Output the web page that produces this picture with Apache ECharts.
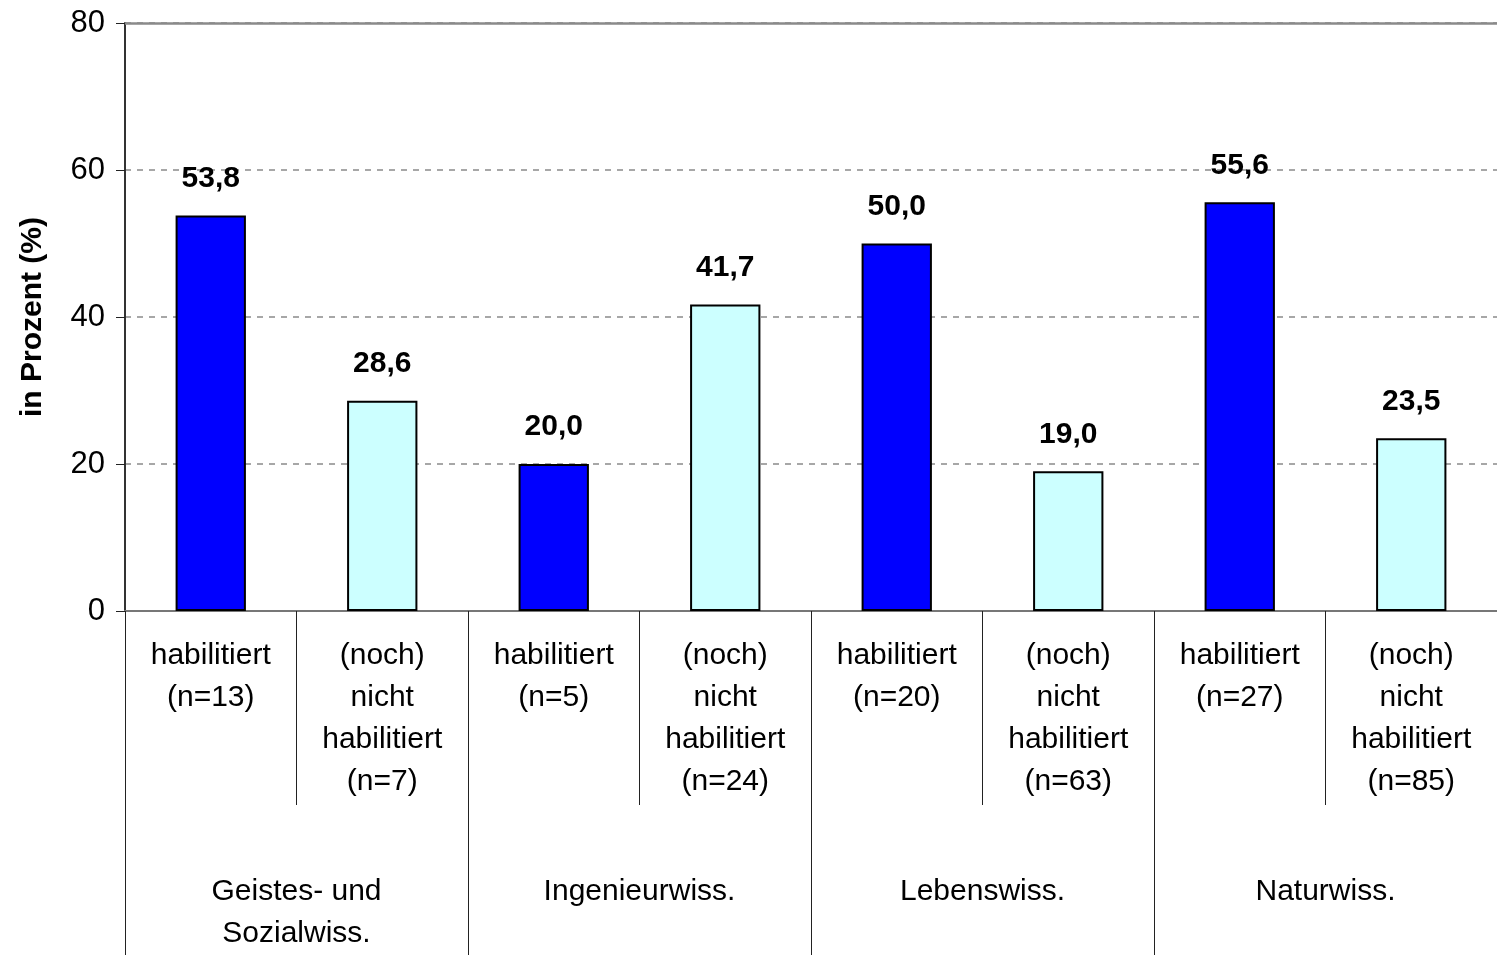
<!DOCTYPE html>
<html>
<head>
<meta charset="utf-8">
<script src="https://cdn.jsdelivr.net/npm/echarts@6/dist/echarts.min.js"></script>
<style>
  html, body { margin: 0; padding: 0; background: #fff; }
  #chart { width: 1497px; height: 955px; }
</style>
</head>
<body>
<div id="chart"></div>
<script>
// categories: status + n per bar, grouped by field
const barLabels = [
  "habilitiert\n(n=13)",
  "(noch)\nnicht\nhabilitiert\n(n=7)",
  "habilitiert\n(n=5)",
  "(noch)\nnicht\nhabilitiert\n(n=24)",
  "habilitiert\n(n=20)",
  "(noch)\nnicht\nhabilitiert\n(n=63)",
  "habilitiert\n(n=27)",
  "(noch)\nnicht\nhabilitiert\n(n=85)",
];
const groupLabels = [
  "Geistes- und\nSozialwiss.",
  "Ingenieurwiss.",
  "Lebenswiss.",
  "Naturwiss.",
];
const percentValues = [53.8, 28.6, 20.0, 41.7, 50.0, 19.0, 55.6, 23.5];
const yTicks = [0, 20, 40, 60, 80];

const FONT = "'Liberation Sans', Arial, sans-serif";
const BLUE = "#0000ff";
const CYAN = "#ccffff";

const chart = echarts.init(document.getElementById("chart"));

const option = {
  backgroundColor: "#ffffff",
  animation: false,
  grid: { left: 125, right: 0, top: 23, bottom: 344 },
  xAxis: [
    {
      type: "category",
      data: barLabels,
      position: "bottom",
      axisLine: { show: true, lineStyle: { color: "#777777", width: 2 } },
      axisTick: {
        show: true,
        interval: 0,
        length: 194,
        lineStyle: { color: "#222222", width: 1 },
      },
      axisLabel: {
        interval: 0,
        margin: 24,
        color: "#000",
        fontFamily: FONT,
        fontSize: 30,
        lineHeight: 42,
        align: "center",
      },
      splitLine: { show: false },
    },
    {
      type: "category",
      data: groupLabels,
      position: "bottom",
      offset: 0,
      axisLine: { show: false },
      axisTick: {
        show: true,
        interval: 0,
        length: 344,
        lineStyle: { color: "#222222", width: 1 },
      },
      axisLabel: {
        interval: 0,
        margin: 260,
        color: "#000",
        fontFamily: FONT,
        fontSize: 30,
        lineHeight: 42,
        align: "center",
      },
      splitLine: { show: false },
    },
  ],
  yAxis: {
    type: "value",
    min: yTicks[0],
    max: yTicks[yTicks.length - 1],
    interval: 20,
    name: "in Prozent (%)",
    nameLocation: "middle",
    nameGap: 77,
    nameRotate: 90,
    nameTextStyle: {
      color: "#000",
      fontFamily: FONT,
      fontSize: 30,
      fontWeight: "bold",
    },
    axisLine: { show: true, lineStyle: { color: "#333333", width: 2 } },
    axisTick: { show: true, inside: false, length: 9, lineStyle: { color: "#222222" } },
    axisLabel: {
      margin: 20,
      color: "#000",
      fontFamily: FONT,
      fontSize: 31,
    },
    splitLine: {
      show: true,
      lineStyle: { color: "#8a8a8a", type: [6, 6], width: 1.5 },
    },
  },
  series: [
    {
      type: "bar",
      xAxisIndex: 0,
      data: percentValues,
      barWidth: "41%",
      itemStyle: {
        color: (p) => (p.dataIndex % 2 === 0 ? BLUE : CYAN),
        borderColor: "#000000",
        borderWidth: 2,
      },
      label: {
        show: true,
        position: "top",
        distance: 22,
        color: "#000",
        fontFamily: FONT,
        fontSize: 30,
        fontWeight: "bold",
        formatter: (p) => p.value.toFixed(1).replace(".", ","),
      },
      markLine: {
        silent: true,
        symbol: "none",
        label: { show: false },
        lineStyle: { color: "#8a8a8a", type: "solid", width: 2.5 },
        data: [{ yAxis: yTicks[yTicks.length - 1] }],
      },
    },
  ],
};

chart.setOption(option);
</script>
</body>
</html>
